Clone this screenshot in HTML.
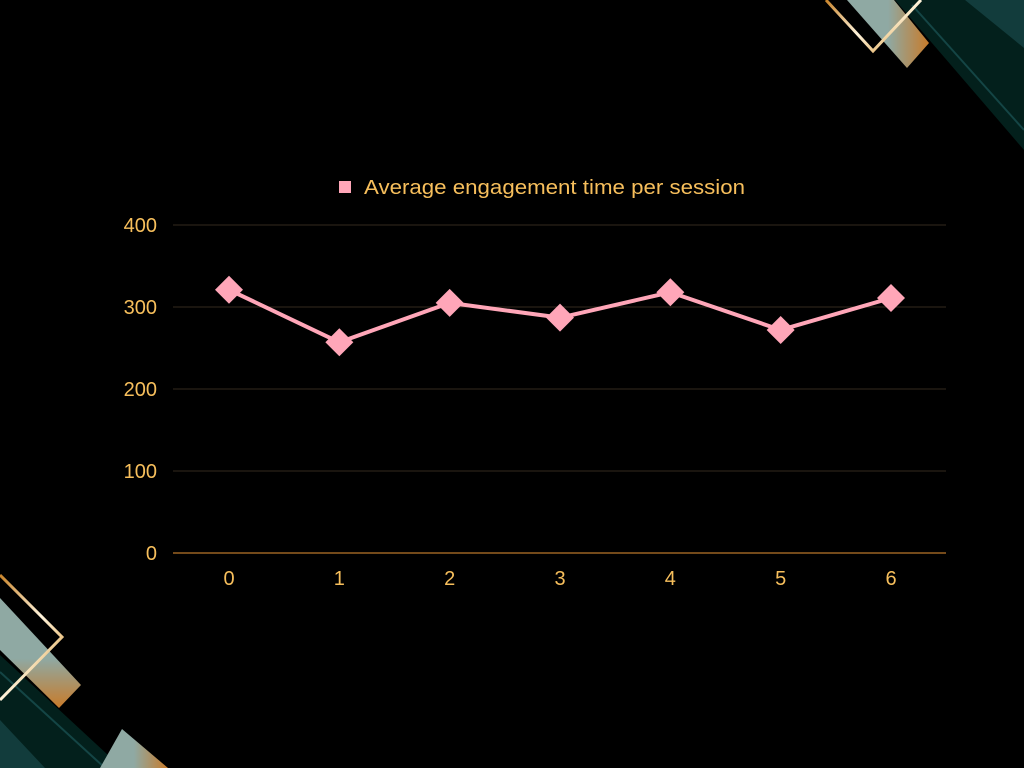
<!DOCTYPE html>
<html><head><meta charset="utf-8">
<style>
html,body{margin:0;padding:0;background:#000;}
body{width:1024px;height:768px;overflow:hidden;position:relative;font-family:"Liberation Sans",sans-serif;}
svg{position:absolute;left:0;top:0;}
</style></head>
<body>
<svg id="chart" width="1024" height="768" viewBox="0 0 1024 768">
  <defs>
    <linearGradient id="gold" x1="0" y1="0" x2="1" y2="1">
      <stop offset="0" stop-color="#c8842a"/><stop offset="0.5" stop-color="#fff4dc"/><stop offset="1" stop-color="#d99a3c"/>
    </linearGradient>
    <linearGradient id="grayb" x1="0" y1="0" x2="1" y2="0">
      <stop offset="0.5" stop-color="#8fa9a3"/><stop offset="1" stop-color="#c87b2a"/>
    </linearGradient>
    <linearGradient id="grayc" x1="0" y1="0" x2="0" y2="1">
      <stop offset="0.55" stop-color="#8fa9a3"/><stop offset="1" stop-color="#c87b2a"/>
    </linearGradient>
  </defs>
  <g>
    <polygon points="895,0 1024,0 1024,150" fill="#03201c"/>
    <polygon points="965,0 1024,0 1024,48" fill="#123c3c"/>
    <line x1="912" y1="5" x2="1024" y2="130" stroke="#144545" stroke-width="2"/>
    <polygon points="847,0 894,0 929,43 907,68" fill="url(#grayb)"/>
    <polyline points="826,0 873,51 921,0" fill="none" stroke="url(#gold)" stroke-width="3"/>
  </g>
  <g>
    <polygon points="0,655 0,768 122,768" fill="#03201c"/>
    <polygon points="0,720 0,768 45,768" fill="#123c3c"/>
    <line x1="0" y1="672" x2="105" y2="768" stroke="#144545" stroke-width="2"/>
    <polygon points="0,598 81,685 59,708 0,650" fill="url(#grayc)"/>
    <polygon points="122,729 168,768 100,768" fill="url(#grayb)"/>
    <polyline points="0,575 62,637 0,700" fill="none" stroke="url(#gold)" stroke-width="3"/>
  </g>
  <g id="grid"></g>
  <g id="yticks"></g>
  <g id="xticks"></g>
  <g id="series"></g>
  <g>
    <rect x="339" y="181" width="12" height="12" fill="#ffa6b8"/>
    <text x="364" y="194" font-size="20" textLength="381" lengthAdjust="spacingAndGlyphs" fill="#f7bf5c">Average engagement time per session</text>
  </g>
</svg>
<script>
const categories = ["0","1","2","3","4","5","6"];
const values = [321, 257, 305, 287, 318, 272, 311];
const yTicks = [0, 100, 200, 300, 400];

const NS = "http://www.w3.org/2000/svg";
const xS = i => 229 + i * (891 - 229) / 6;
const yS = v => 553 - v * (553 - 225) / 400;
function mk(tag, attrs, parent){ const e=document.createElementNS(NS,tag); for(const k in attrs) e.setAttribute(k,attrs[k]); parent.appendChild(e); return e; }

const grid=document.getElementById('grid'), yt=document.getElementById('yticks'), xt=document.getElementById('xticks'), ser=document.getElementById('series');
yTicks.forEach(v=>{
  const l=mk('line',{x1:173,x2:946,y1:yS(v),y2:yS(v),stroke:v===0?'#b9772a':'#352a1e','stroke-width':v===0?1.2:1},grid);
  
  
  const t=mk('text',{x:157,y:yS(v)+7,'text-anchor':'end','font-size':20,fill:'#f7bf5c'},yt);
  t.textContent=v;
  
  
});
categories.forEach((c,i)=>{
  const t=mk('text',{x:xS(i),y:585,'text-anchor':'middle','font-size':20,fill:'#f7bf5c'},xt);
  t.textContent=c;
  
  
});
const pl=mk('polyline',{points:values.map((v,i)=>xS(i)+','+yS(v)).join(' '),fill:'none',stroke:'#ffa6b8','stroke-width':4,'stroke-linejoin':'round'},ser);


values.forEach((v,i)=>{
  const x=xS(i), y=yS(v), r=14;
  const p=mk('polygon',{points:`${x},${y-r} ${x+r},${y} ${x},${y+r} ${x-r},${y}`,fill:'#ffa6b8'},ser);
  
  
});
</script>
</body></html>
